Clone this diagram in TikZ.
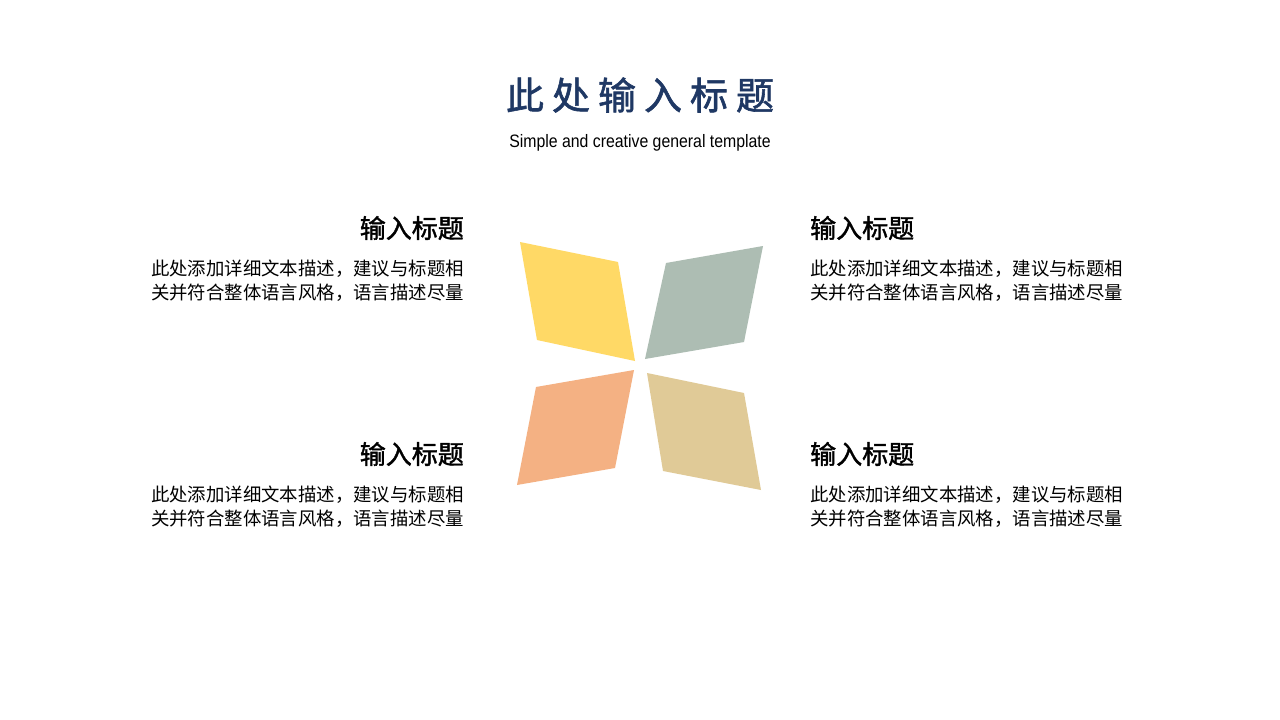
\documentclass[tikz,border=0pt]{standalone}
\usepackage{fontspec}
\newfontfamily\cjk{Noto Sans CJK SC}
\newfontfamily\cjkb{Noto Sans CJK SC}[FakeBold=1.5]
\newfontfamily\subfont{Liberation Sans}
\definecolor{navy}{HTML}{1F3864}
\definecolor{cyellow}{HTML}{FFD966}
\definecolor{cgray}{HTML}{ADBDB3}
\definecolor{corange}{HTML}{F4B183}
\definecolor{ctan}{HTML}{E0CA97}
\begin{document}
\begin{tikzpicture}[x=1pt,y=-1pt,
  headtxt/.style={font=\cjkb\fontsize{26}{30}\selectfont, inner sep=0pt},
  bodytxt/.style={font=\cjk\fontsize{18.4}{24}\selectfont, inner sep=0pt, text=black},
  petal/.style={draw=none}]
\useasboundingbox (0,0) rectangle (1280,720);
\fill[white] (0,0) rectangle (1280,720);
% title
\node[font=\cjkb\fontsize{38}{42}\selectfont, text=navy, inner sep=0pt] (title) at (640,95) {此\hspace{8pt}处\hspace{8pt}输\hspace{8pt}入\hspace{8pt}标\hspace{8pt}题};
\node[font=\subfont\fontsize{18}{20}\selectfont, inner sep=0pt] (sub) at (640,143) {\scalebox{0.88}[1]{Simple and creative general template}};
% petals
\fill[cyellow] (520,242) -- (618,262) -- (635,361) -- (537,340) -- cycle;
\fill[cgray] (763,246) -- (666,263) -- (645,359) -- (744,342) -- cycle;
\fill[corange] (634,370) -- (536,387) -- (517,485) -- (615,468) -- cycle;
\fill[ctan] (647,373) -- (744,393) -- (761,490) -- (663,471) -- cycle;
% left top
\node[headtxt, anchor=east] (h1) at (464,228) {输入标题};
\node[bodytxt, anchor=north east, align=right] (b1) at (464,260) {此处添加详细文本描述，建议与标题相\\关并符合整体语言风格，语言描述尽量};
% right top
\node[headtxt, anchor=west] (h2) at (810,228) {输入标题};
\node[bodytxt, anchor=north west, align=left] (b2) at (810,260) {此处添加详细文本描述，建议与标题相\\关并符合整体语言风格，语言描述尽量};
% left bottom
\node[headtxt, anchor=east] (h3) at (464,454) {输入标题};
\node[bodytxt, anchor=north east, align=right] (b3) at (464,486) {此处添加详细文本描述，建议与标题相\\关并符合整体语言风格，语言描述尽量};
% right bottom
\node[headtxt, anchor=west] (h4) at (810,454) {输入标题};
\node[bodytxt, anchor=north west, align=left] (b4) at (810,486) {此处添加详细文本描述，建议与标题相\\关并符合整体语言风格，语言描述尽量};
\end{tikzpicture}
\end{document}
